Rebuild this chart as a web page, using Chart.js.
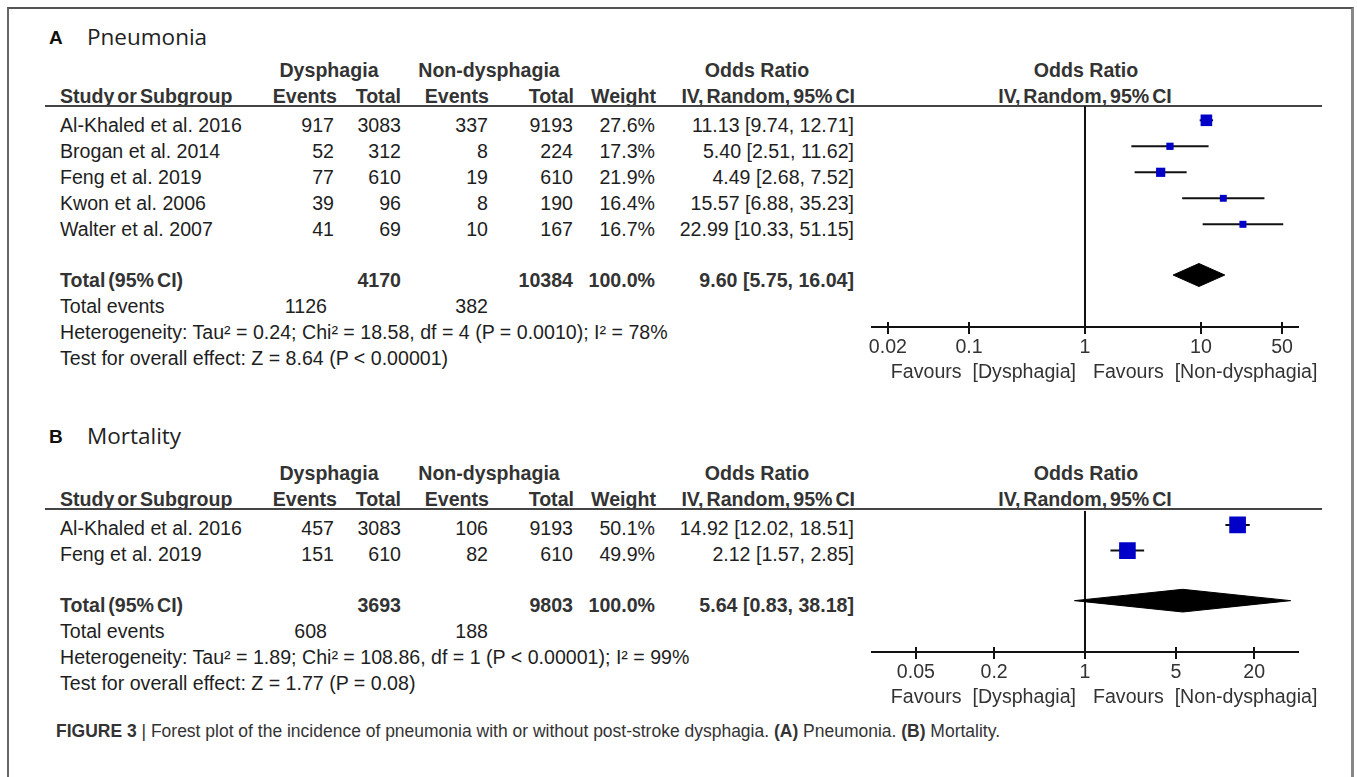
<!DOCTYPE html>
<html>
<head>
<meta charset="utf-8">
<script src="https://cdn.jsdelivr.net/npm/chart.js@4/dist/chart.umd.min.js"></script>
<style>
  html, body { margin: 0; padding: 0; background: #fff; }
  #page { position: relative; width: 1357px; height: 777px; overflow: hidden; background: #fff; }
  .frame { position: absolute; left: 7px; top: 7px; width: 1347px; height: 820px; box-sizing: border-box;
           border-left: 2px solid #666; border-top: 2px solid #555; border-right: 3px solid #888; }
  .t { position: absolute; white-space: pre; line-height: 1; font-family: "Liberation Sans", Arial, sans-serif;
       font-size: 19.6px; color: #1e1e1e; }
  .b { font-weight: bold; color: #333; }
  .rule { position: absolute; height: 2px; background: #444; }
  canvas { position: absolute; }
</style>
</head>
<body>
<div id="page"><div class="frame"></div></div>
<script>
// ---------- Panel A: pneumonia ----------
const pneuStudies   = ["Al-Khaled et al. 2016", "Brogan et al. 2014", "Feng et al. 2019", "Kwon et al. 2006", "Walter et al. 2007"];
const pneuDysEvents = [917, 52, 77, 39, 41];
const pneuDysTotal  = [3083, 312, 610, 96, 69];
const pneuNonEvents = [337, 8, 19, 8, 10];
const pneuNonTotal  = [9193, 224, 610, 190, 167];
const pneuWeight    = [27.6, 17.3, 21.9, 16.4, 16.7];
const pneuOR        = [11.13, 5.40, 4.49, 15.57, 22.99];
const pneuLow       = [9.74, 2.51, 2.68, 6.88, 10.33];
const pneuHigh      = [12.71, 11.62, 7.52, 35.23, 51.15];
const pneuPooled    = [9.60, 5.75, 16.04];          // estimate, lower, upper
const pneuTicks     = [0.02, 0.1, 1, 10, 50];
const pneuHet  = "Heterogeneity: Tau² = 0.24; Chi² = 18.58, df = 4 (P = 0.0010); I² = 78%";
const pneuTest = "Test for overall effect: Z = 8.64 (P < 0.00001)";

// ---------- Panel B: mortality ----------
const mortStudies   = ["Al-Khaled et al. 2016", "Feng et al. 2019"];
const mortDysEvents = [457, 151];
const mortDysTotal  = [3083, 610];
const mortNonEvents = [106, 82];
const mortNonTotal  = [9193, 610];
const mortWeight    = [50.1, 49.9];
const mortOR        = [14.92, 2.12];
const mortLow       = [12.02, 1.57];
const mortHigh      = [18.51, 2.85];
const mortPooled    = [5.64, 0.83, 38.18];
const mortTicks     = [0.05, 0.2, 1, 5, 20];
const mortHet  = "Heterogeneity: Tau² = 1.89; Chi² = 108.86, df = 1 (P < 0.00001); I² = 99%";
const mortTest = "Test for overall effect: Z = 1.77 (P = 0.08)";

const favLeft  = "Favours  [Dysphagia]";
const favRight = "Favours  [Non-dysphagia]";
const caption  = "Forest plot of the incidence of pneumonia with or without post-stroke dysphagia. ";

// ---------- layout ----------
const ROW = 26;                 // row pitch in px
const COL = { study: 60, dysEv: 334, dysTot: 401, nonEv: 488, nonTot: 573, weight: 655, ci: 854, totEv: 327 };
const PLOT = { left: 872, width: 426, pad: 30 };
const page = document.getElementById('page');

function txt(str, x, y, o = {}) {
  const d = document.createElement('div');
  d.className = 't' + (o.bold ? ' b' : '');
  d.textContent = str;
  const tx = o.align === 'r' ? '-100%' : o.align === 'c' ? '-50%' : '0';
  d.style.left = x + 'px';
  d.style.top = y + 'px';
  d.style.transform = `translate(${tx}, -50%)`;
  if (o.size) d.style.fontSize = o.size + 'px';
  if (o.family) d.style.fontFamily = o.family;
  if (o.color) d.style.color = o.color;
  if (o.ws != null) d.style.wordSpacing = o.ws + 'px';
  page.appendChild(d);
  return d;
}
function rule(x1, x2, y) {
  const d = document.createElement('div');
  d.className = 'rule';
  d.style.left = x1 + 'px'; d.style.width = (x2 - x1) + 'px'; d.style.top = (y - 1) + 'px';
  page.appendChild(d);
}
const sum = a => a.reduce((s, v) => s + v, 0);
const ci = (e, l, h) => `${e.toFixed(2)} [${l.toFixed(2)}, ${h.toFixed(2)}]`;

// Tick marks that cross the x axis line
const crossTicks = {
  id: 'crossTicks',
  afterDraw(chart) {
    const s = chart.scales.x, ctx = chart.ctx, y = s.top;
    ctx.save();
    ctx.strokeStyle = '#111';
    ctx.lineWidth = 2;
    s.ticks.forEach(t => {
      const x = Math.round(s.getPixelForValue(t.value));
      ctx.beginPath(); ctx.moveTo(x, y - 5); ctx.lineTo(x, y + 7); ctx.stroke();
    });
    ctx.restore();
  }
};

function panel(p) {
  const n = p.studies.length;
  const base = p.ruleY;
  const yRow = i => i + 0.55;              // study rows in row units
  const yTot = n + 1.5;                    // pooled row
  const yMax = n + 3.5;
  const textY = u => base + u * ROW + 6;

  // titles and headers
  txt(p.letter, 49, p.titleY, { bold: true, size: 19, color: '#111' });
  txt(p.title, 87, p.titleY, { family: '"Open Sans", sans-serif', size: 22.5, color: '#222' });
  const h1 = base - 35, h2 = base - 9;
  txt('Dysphagia', 329, h1, { bold: true, align: 'c' });
  txt('Non-dysphagia', 489, h1, { bold: true, align: 'c' });
  txt('Odds Ratio', 757, h1, { bold: true, align: 'c' });
  txt('Odds Ratio', 1086, h1, { bold: true, align: 'c' });
  txt('Study or Subgroup', COL.study, h2, { bold: true, ws: -2.5 });
  txt('Events', 337, h2, { bold: true, align: 'r' });
  txt('Total', 401, h2, { bold: true, align: 'r' });
  txt('Events', 489, h2, { bold: true, align: 'r' });
  txt('Total', 574, h2, { bold: true, align: 'r' });
  txt('Weight', 656, h2, { bold: true, align: 'r' });
  txt('IV, Random, 95% CI', 855, h2, { bold: true, align: 'r', ws: -2.5 });
  txt('IV, Random, 95% CI', 1085, h2, { bold: true, align: 'c', ws: -2.5 });
  rule(45, 1322, base);

  // study rows
  p.studies.forEach((s, i) => {
    const y = textY(yRow(i));
    txt(s, COL.study, y);
    txt(String(p.dysEv[i]), COL.dysEv, y, { align: 'r' });
    txt(String(p.dysTot[i]), COL.dysTot, y, { align: 'r' });
    txt(String(p.nonEv[i]), COL.nonEv, y, { align: 'r' });
    txt(String(p.nonTot[i]), COL.nonTot, y, { align: 'r' });
    txt(p.weight[i].toFixed(1) + '%', COL.weight, y, { align: 'r' });
    txt(ci(p.or[i], p.lo[i], p.hi[i]), COL.ci, y, { align: 'r' });
  });

  // totals
  let y = textY(yTot);
  txt('Total (95% CI)', COL.study, y, { bold: true, ws: -2.5 });
  txt(String(sum(p.dysTot)), COL.dysTot, y, { bold: true, align: 'r' });
  txt(String(sum(p.nonTot)), COL.nonTot, y, { bold: true, align: 'r' });
  txt('100.0%', COL.weight, y, { bold: true, align: 'r' });
  txt(ci(p.pooled[0], p.pooled[1], p.pooled[2]), COL.ci, y, { bold: true, align: 'r' });
  y += ROW;
  txt('Total events', COL.study, y);
  txt(String(sum(p.dysEv)), COL.totEv, y, { align: 'r' });
  txt(String(sum(p.nonEv)), COL.nonEv, y, { align: 'r' });
  txt(p.het, COL.study, y + ROW);
  txt(p.test, COL.study, y + 2 * ROW);

  // forest plot
  const areaH = yMax * ROW;
  const cv = document.createElement('canvas');
  cv.width = PLOT.width + 2 * PLOT.pad;
  cv.height = 10 + areaH + 40;
  cv.style.left = (PLOT.left - PLOT.pad) + 'px';
  cv.style.top = (base - 10) + 'px';
  page.appendChild(cv);

  const datasets = [];
  datasets.push({
    label: 'estimates',
    data: p.or.map((v, i) => ({ x: v, y: yRow(i) })),
    pointStyle: 'rect',
    pointRadius: p.weight.map(w => w * p.boxScale / Math.SQRT2),
    backgroundColor: '#0000c8', borderWidth: 0, order: 0
  });
  p.or.forEach((v, i) => datasets.push({
    label: 'ci' + i,
    data: [{ x: p.lo[i], y: yRow(i) }, { x: p.hi[i], y: yRow(i) }],
    showLine: true, pointRadius: 0, borderColor: '#111', borderWidth: 2, order: 1
  }));
  const [est, lo, hi] = p.pooled, dh = 11.5 / ROW;
  datasets.push({
    label: 'pooled',
    data: [{ x: lo, y: yTot }, { x: est, y: yTot - dh }, { x: hi, y: yTot }, { x: est, y: yTot + dh }, { x: lo, y: yTot }],
    showLine: true, fill: 'shape', pointRadius: 0, tension: 0,
    borderColor: '#000', backgroundColor: '#000', borderWidth: 1, order: 1
  });
  datasets.push({
    label: 'no effect',
    data: [{ x: 1, y: 0 }, { x: 1, y: yMax }],
    showLine: true, pointRadius: 0, borderColor: '#111', borderWidth: 2, order: 2
  });

  new Chart(cv, {
    type: 'scatter',
    data: { datasets },
    options: {
      responsive: false, animation: false, devicePixelRatio: 1, events: [],
      layout: { padding: { left: PLOT.pad, right: PLOT.pad, top: 10, bottom: 0 } },
      plugins: { legend: { display: false }, tooltip: { enabled: false } },
      scales: {
        x: {
          type: 'logarithmic', bounds: 'data', min: 1 / p.xMax, max: p.xMax,
          afterBuildTicks: s => { s.ticks = p.ticks.map(v => ({ value: v })); },
          afterFit: s => { s.height = 40; },
          ticks: { autoSkip: false, maxRotation: 0, padding: 1, color: '#333',
                   font: { family: '"Liberation Sans", Arial, sans-serif', size: 19.6 },
                   callback: v => String(v) },
          grid: { display: true, drawOnChartArea: false, drawTicks: true, tickLength: 8, color: 'rgba(0,0,0,0)' },
          border: { display: true, color: '#111', width: 2 }
        },
        y: { type: 'linear', min: 0, max: yMax, reverse: true, display: false }
      }
    },
    plugins: [crossTicks]
  });

  const favY = base + areaH + 45;
  txt(favLeft, 1076, favY, { align: 'r', color: '#333' });
  txt(favRight, 1093, favY, { color: '#333' });
}

panel({
  letter: 'A', title: 'Pneumonia', titleY: 37, ruleY: 106,
  studies: pneuStudies, dysEv: pneuDysEvents, dysTot: pneuDysTotal, nonEv: pneuNonEvents, nonTot: pneuNonTotal,
  weight: pneuWeight, or: pneuOR, lo: pneuLow, hi: pneuHigh, pooled: pneuPooled, ticks: pneuTicks,
  het: pneuHet, test: pneuTest, xMax: Math.pow(10, 213 / 116), boxScale: 0.42
});
panel({
  letter: 'B', title: 'Mortality', titleY: 436, ruleY: 509,
  studies: mortStudies, dysEv: mortDysEvents, dysTot: mortDysTotal, nonEv: mortNonEvents, nonTot: mortNonTotal,
  weight: mortWeight, or: mortOR, lo: mortLow, hi: mortHigh, pooled: mortPooled, ticks: mortTicks,
  het: mortHet, test: mortTest, xMax: Math.pow(10, 213 / 130), boxScale: 0.333
});

// figure caption, fitted to its line width
const cap = document.createElement('div');
cap.className = 't';
cap.style.cssText = 'left:56px;top:732px;font-size:17.5px;color:#333;transform-origin:0 50%;';
cap.innerHTML = '<b>FIGURE 3</b> | ' + caption + '<b>(A)</b> Pneumonia. <b>(B)</b> Mortality.';
page.appendChild(cap);
const capW = cap.getBoundingClientRect().width;
cap.style.transform = `translateY(-50%) scaleX(${944 / capW})`;
</script>
</body>
</html>
